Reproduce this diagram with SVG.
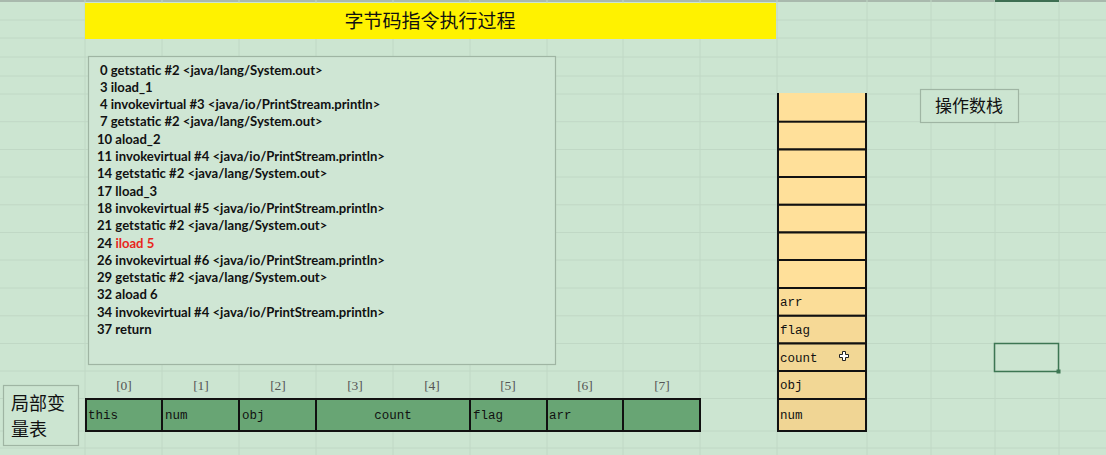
<svg xmlns="http://www.w3.org/2000/svg" width="1106" height="455" viewBox="0 0 1106 455">
<style>
.grid line{stroke:#c0d8c5;stroke-width:1}
.code{font-family:Lato,"Liberation Sans",sans-serif;font-weight:bold;font-size:13.1px;fill:#111}
.red{fill:#e8261c}
.mono{font-family:"Liberation Mono","DejaVu Sans Mono",monospace;font-size:12.5px;fill:#111}
.idx{font-family:"Liberation Serif","Noto Sans CJK SC",serif;font-size:13.5px;fill:#555;text-anchor:middle}
.cjk{font-family:"Noto Sans CJK SC",sans-serif;fill:#111}
.scell{fill:#ffe09a;stroke:#111;stroke-width:2}
.tcell{fill:#68a574;stroke:#111;stroke-width:2}
.lbl{fill:#cce5d1;stroke:#9fb5a3;stroke-width:1.2}
</style>
<rect x="0" y="0" width="1106" height="455" fill="#cce5d1"/>
<line x1="0" y1="1" x2="1106" y2="1" stroke="#a9b9ad" stroke-width="2"/>
<g class="grid">
<line x1="85" y1="0" x2="85" y2="455"/><line x1="162" y1="0" x2="162" y2="455"/><line x1="239" y1="0" x2="239" y2="455"/><line x1="316" y1="0" x2="316" y2="455"/><line x1="393" y1="0" x2="393" y2="455"/><line x1="470" y1="0" x2="470" y2="455"/><line x1="547" y1="0" x2="547" y2="455"/><line x1="623" y1="0" x2="623" y2="455"/><line x1="700" y1="0" x2="700" y2="455"/><line x1="777" y1="0" x2="777" y2="455"/><line x1="867" y1="0" x2="867" y2="455"/><line x1="931" y1="0" x2="931" y2="455"/><line x1="995" y1="0" x2="995" y2="455"/><line x1="1059" y1="0" x2="1059" y2="455"/>
<line x1="0" y1="20" x2="1106" y2="20"/><line x1="0" y1="38" x2="1106" y2="38"/><line x1="0" y1="57" x2="1106" y2="57"/><line x1="0" y1="76" x2="1106" y2="76"/><line x1="0" y1="94" x2="1106" y2="94"/><line x1="0" y1="121.7" x2="1106" y2="121.7"/><line x1="0" y1="149.5" x2="1106" y2="149.5"/><line x1="0" y1="177" x2="1106" y2="177"/><line x1="0" y1="204.8" x2="1106" y2="204.8"/><line x1="0" y1="232.5" x2="1106" y2="232.5"/><line x1="0" y1="260" x2="1106" y2="260"/><line x1="0" y1="288" x2="1106" y2="288"/><line x1="0" y1="315.8" x2="1106" y2="315.8"/><line x1="0" y1="343.5" x2="1106" y2="343.5"/><line x1="0" y1="371" x2="1106" y2="371"/><line x1="0" y1="398.5" x2="1106" y2="398.5"/><line x1="0" y1="431" x2="1106" y2="431"/><line x1="0" y1="448" x2="1106" y2="448"/>
</g>
<line x1="995" y1="1" x2="1059" y2="1" stroke="#3e6e52" stroke-width="2"/>

<g id="title">
<rect x="85" y="3" width="691" height="36" fill="#fff200"/>
<text class="cjk" x="430" y="28" font-size="19" text-anchor="middle">字节码指令执行过程</text>
</g>

<g id="bytecode">
<rect x="88.5" y="56.5" width="467" height="308" fill="#cfe6d4" stroke="#9fb5a3" stroke-width="1.2"/>
<text class="code" x="100" y="74.5">0 getstatic #2 &lt;java/lang/System.out&gt;</text>
<text class="code" x="100" y="91.8">3 iload_1</text>
<text class="code" x="100" y="109.1">4 invokevirtual #3 &lt;java/io/PrintStream.println&gt;</text>
<text class="code" x="100" y="126.4">7 getstatic #2 &lt;java/lang/System.out&gt;</text>
<text class="code" x="97" y="143.7">10 aload_2</text>
<text class="code" x="97" y="161">11 invokevirtual #4 &lt;java/io/PrintStream.println&gt;</text>
<text class="code" x="97" y="178.3">14 getstatic #2 &lt;java/lang/System.out&gt;</text>
<text class="code" x="97" y="195.6">17 lload_3</text>
<text class="code" x="97" y="212.9">18 invokevirtual #5 &lt;java/io/PrintStream.println&gt;</text>
<text class="code" x="97" y="230.2">21 getstatic #2 &lt;java/lang/System.out&gt;</text>
<text class="code" x="97" y="247.5">24 <tspan class="red">iload 5</tspan></text>
<text class="code" x="97" y="264.8">26 invokevirtual #6 &lt;java/io/PrintStream.println&gt;</text>
<text class="code" x="97" y="282.1">29 getstatic #2 &lt;java/lang/System.out&gt;</text>
<text class="code" x="97" y="299.4">32 aload 6</text>
<text class="code" x="97" y="316.7">34 invokevirtual #4 &lt;java/io/PrintStream.println&gt;</text>
<text class="code" x="97" y="334">37 return</text>
</g>

<g id="operand-stack">
<rect x="778" y="93" width="88" height="28.7" fill="#ffe09a"/>
<rect class="scell" x="778" y="121.7" width="88" height="27.8"/>
<rect class="scell" x="778" y="149.5" width="88" height="27.5"/>
<rect class="scell" x="778" y="177" width="88" height="27.8"/>
<rect class="scell" x="778" y="204.8" width="88" height="27.7"/>
<rect class="scell" x="778" y="232.5" width="88" height="27.5"/>
<rect class="scell" x="778" y="260" width="88" height="28"/>
<rect class="scell" x="778" y="288" width="88" height="27.8" style="fill:#fbdd98"/>
<rect class="scell" x="778" y="315.8" width="88" height="27.7" style="fill:#f6d996"/>
<rect class="scell" x="778" y="343.5" width="88" height="27.5" style="fill:#f2d795"/>
<rect class="scell" x="778" y="371" width="88" height="28" style="fill:#f2d795"/>
<rect class="scell" x="778" y="399" width="88" height="32" style="fill:#f0d594"/>
<line x1="778" y1="93" x2="778" y2="431" stroke="#111" stroke-width="2"/>
<line x1="866" y1="93" x2="866" y2="431" stroke="#111" stroke-width="2"/>
<text class="mono" x="780" y="306">arr</text>
<text class="mono" x="780" y="334">flag</text>
<text class="mono" x="780" y="362">count</text>
<text class="mono" x="780" y="389">obj</text>
<text class="mono" x="780" y="419">num</text>
<path d="M842.5 351.5h3v3h3v3h-3v3h-3v-3h-3v-3h3z" fill="#fff" stroke="#222" stroke-width="1"/>
</g>

<g id="stack-label">
<rect class="lbl" x="920.5" y="89.5" width="98" height="33"/>
<text class="cjk" x="969" y="112" font-size="17" text-anchor="middle">操作数栈</text>
</g>

<g id="selected-cell">
<rect x="994.5" y="343.5" width="64" height="28" fill="none" stroke="#3d7653" stroke-width="1.5"/>
<rect x="1056.5" y="369.5" width="4" height="4" fill="#3d7653"/>
</g>

<g id="locals-label">
<rect class="lbl" x="3.5" y="385.5" width="75" height="60"/>
<text class="cjk" x="11" y="410" font-size="18">局部变</text>
<text class="cjk" x="11" y="436" font-size="18">量表</text>
</g>

<g id="local-vars">
<text class="idx" x="124" y="390">[0]</text>
<text class="idx" x="201" y="390">[1]</text>
<text class="idx" x="278" y="390">[2]</text>
<text class="idx" x="355" y="390">[3]</text>
<text class="idx" x="432" y="390">[4]</text>
<text class="idx" x="508" y="390">[5]</text>
<text class="idx" x="585" y="390">[6]</text>
<text class="idx" x="662" y="390">[7]</text>
<rect class="tcell" x="86" y="399" width="76" height="32"/>
<rect class="tcell" x="162" y="399" width="77" height="32"/>
<rect class="tcell" x="239" y="399" width="77" height="32"/>
<rect class="tcell" x="316" y="399" width="154" height="32"/>
<rect class="tcell" x="470" y="399" width="77" height="32"/>
<rect class="tcell" x="547" y="399" width="76" height="32"/>
<rect class="tcell" x="623" y="399" width="77" height="32"/>
<text class="mono" x="88" y="419">this</text>
<text class="mono" x="165" y="419">num</text>
<text class="mono" x="242" y="419">obj</text>
<text class="mono" x="393" y="419" text-anchor="middle">count</text>
<text class="mono" x="473" y="419">flag</text>
<text class="mono" x="549" y="419">arr</text>
</g>
<g id="connectors"/>
</svg>
